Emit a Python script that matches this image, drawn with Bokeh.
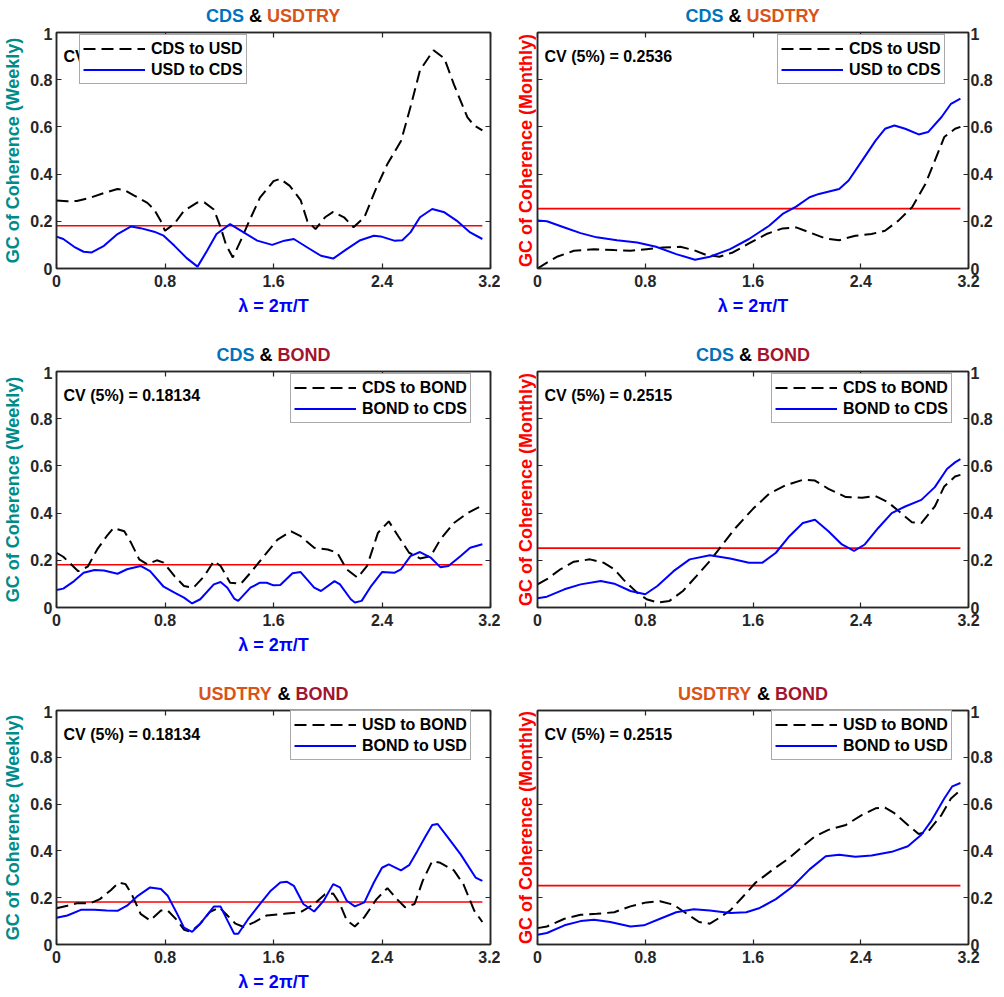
import numpy as np
from bokeh.plotting import figure
from bokeh.layouts import column, row
from bokeh.models import Range1d, LinearAxis, FixedTicker, Label, Legend, LegendItem, ColumnDataSource
from bokeh.embed import file_html
from bokeh.resources import INLINE

# ---------------- data ----------------
x_ticks = [0, 0.8, 1.6, 2.4, 3.2]
x_tick_labels = ["0", "0.8", "1.6", "2.4", "3.2"]
y_ticks = [0, 0.2, 0.4, 0.6, 0.8, 1.0]
y_tick_labels = ["0", "0.2", "0.4", "0.6", "0.8", "1"]

cv_weekly = 0.18134
cv_monthly_cds_usd = 0.2536
cv_monthly_bond = 0.2515

# Panel 1: CDS & USDTRY (weekly)
cds_usd_w_x = [0, 0.08, 0.15, 0.25, 0.35, 0.45, 0.50, 0.57, 0.67, 0.72, 0.77, 0.80, 0.87, 0.94, 1.04, 1.09,
               1.16, 1.21, 1.25, 1.30, 1.36, 1.42, 1.50, 1.60, 1.65, 1.72, 1.80, 1.85, 1.91, 1.98, 2.04, 2.12,
               2.19, 2.27, 2.36, 2.44, 2.54, 2.61, 2.68, 2.78, 2.86, 2.93, 3.03, 3.08, 3.14]
cds_usd_w_y = [0.288, 0.285, 0.286, 0.30, 0.32, 0.337, 0.333, 0.31, 0.278, 0.25, 0.20, 0.16, 0.19, 0.245, 0.28, 0.28,
               0.25, 0.175, 0.10, 0.047, 0.12, 0.20, 0.30, 0.37, 0.38, 0.35, 0.29, 0.20, 0.167, 0.217, 0.24, 0.217,
               0.175, 0.217, 0.344, 0.443, 0.54, 0.684, 0.84, 0.925, 0.89, 0.78, 0.64, 0.606, 0.585]
usd_cds_w_x = [0, 0.05, 0.13, 0.20, 0.26, 0.35, 0.45, 0.55, 0.62, 0.72, 0.79, 0.87, 0.96, 1.04, 1.11, 1.18,
               1.28, 1.38, 1.48, 1.59, 1.68, 1.75, 1.85, 1.95, 2.04, 2.14, 2.24, 2.34, 2.39, 2.49, 2.55, 2.61,
               2.68, 2.77, 2.86, 2.95, 3.05, 3.14]
usd_cds_w_y = [0.135, 0.125, 0.092, 0.071, 0.068, 0.096, 0.146, 0.178, 0.171, 0.156, 0.139, 0.096, 0.044, 0.008, 0.075, 0.146,
               0.188, 0.153, 0.118, 0.10, 0.118, 0.125, 0.089, 0.054, 0.042, 0.082, 0.12, 0.139, 0.136, 0.118, 0.12, 0.153,
               0.217, 0.252, 0.238, 0.203, 0.153, 0.125]

# Panel 2: CDS & USDTRY (monthly)
cds_usd_m_x = [0, 0.07, 0.15, 0.27, 0.42, 0.57, 0.69, 0.81, 0.93, 1.06, 1.16, 1.25, 1.35, 1.45, 1.57, 1.70,
               1.82, 1.92, 2.02, 2.14, 2.24, 2.36, 2.48, 2.58, 2.68, 2.78, 2.88, 2.95, 3.02, 3.10, 3.14]
cds_usd_m_y = [0.0, 0.025, 0.051, 0.075, 0.082, 0.078, 0.075, 0.082, 0.089, 0.092, 0.078, 0.058, 0.05, 0.068, 0.106, 0.146,
               0.17, 0.174, 0.153, 0.127, 0.12, 0.139, 0.146, 0.16, 0.203, 0.259, 0.358, 0.457, 0.557, 0.592, 0.60]
usd_cds_m_x = [0, 0.07, 0.20, 0.32, 0.44, 0.59, 0.74, 0.88, 1.03, 1.17, 1.28, 1.43, 1.57, 1.72, 1.82, 1.92,
               2.02, 2.09, 2.24, 2.31, 2.41, 2.51, 2.58, 2.65, 2.73, 2.83, 2.90, 3.00, 3.07, 3.14]
usd_cds_m_y = [0.203, 0.20, 0.174, 0.15, 0.132, 0.12, 0.11, 0.092, 0.061, 0.037, 0.05, 0.082, 0.125, 0.181, 0.231, 0.262,
               0.302, 0.316, 0.337, 0.373, 0.457, 0.542, 0.592, 0.606, 0.592, 0.568, 0.578, 0.642, 0.698, 0.72]

# Panel 3: CDS & BOND (weekly)
cds_bond_w_x = [0, 0.05, 0.10, 0.16, 0.23, 0.30, 0.37, 0.42, 0.50, 0.55, 0.61, 0.67, 0.74, 0.79, 0.87, 0.94,
                1.01, 1.09, 1.16, 1.21, 1.28, 1.36, 1.43, 1.53, 1.63, 1.73, 1.80, 1.90, 2.00, 2.07, 2.14, 2.22,
                2.29, 2.37, 2.45, 2.52, 2.60, 2.68, 2.76, 2.83, 2.93, 3.03, 3.14]
cds_bond_w_y = [0.232, 0.215, 0.187, 0.154, 0.173, 0.246, 0.302, 0.337, 0.323, 0.274, 0.204, 0.183, 0.20, 0.19, 0.133, 0.091,
                0.084, 0.133, 0.197, 0.176, 0.105, 0.101, 0.147, 0.218, 0.288, 0.323, 0.302, 0.253, 0.246, 0.232, 0.162, 0.126,
                0.176, 0.316, 0.365, 0.302, 0.232, 0.208, 0.218, 0.288, 0.358, 0.40, 0.433]
bond_cds_w_x = [0, 0.05, 0.13, 0.20, 0.28, 0.35, 0.45, 0.52, 0.62, 0.69, 0.79, 0.87, 0.94, 1.00, 1.06, 1.16,
                1.21, 1.26, 1.31, 1.34, 1.43, 1.50, 1.55, 1.60, 1.65, 1.74, 1.80, 1.90, 1.95, 2.05, 2.09, 2.17,
                2.20, 2.25, 2.32, 2.40, 2.49, 2.54, 2.61, 2.68, 2.76, 2.83, 2.89, 2.98, 3.05, 3.14]
bond_cds_w_y = [0.074, 0.08, 0.112, 0.147, 0.159, 0.157, 0.143, 0.162, 0.176, 0.154, 0.088, 0.063, 0.042, 0.017, 0.035, 0.098,
                0.108, 0.084, 0.038, 0.028, 0.084, 0.105, 0.105, 0.094, 0.095, 0.145, 0.15, 0.084, 0.07, 0.112, 0.098, 0.035,
                0.021, 0.028, 0.091, 0.15, 0.147, 0.162, 0.218, 0.235, 0.211, 0.171, 0.176, 0.218, 0.253, 0.268]

# Panel 4: CDS & BOND (monthly)
cds_bond_m_x = [0, 0.07, 0.17, 0.27, 0.39, 0.49, 0.57, 0.64, 0.74, 0.81, 0.89, 0.98, 1.08, 1.18, 1.28, 1.38,
                1.47, 1.60, 1.72, 1.84, 1.97, 2.06, 2.16, 2.29, 2.41, 2.51, 2.60, 2.70, 2.78, 2.85, 2.95, 3.02,
                3.10, 3.14]
cds_bond_m_y = [0.098, 0.12, 0.162, 0.194, 0.204, 0.19, 0.162, 0.117, 0.063, 0.035, 0.021, 0.028, 0.07, 0.133, 0.197, 0.271,
                0.337, 0.418, 0.482, 0.517, 0.541, 0.538, 0.503, 0.468, 0.465, 0.472, 0.447, 0.40, 0.361, 0.358, 0.428, 0.513,
                0.555, 0.562]
bond_cds_m_x = [0, 0.07, 0.20, 0.32, 0.47, 0.57, 0.69, 0.80, 0.89, 1.01, 1.13, 1.28, 1.43, 1.57, 1.67, 1.77,
                1.87, 1.97, 2.06, 2.16, 2.26, 2.35, 2.43, 2.53, 2.63, 2.73, 2.85, 2.95, 3.04, 3.10, 3.14]
bond_cds_m_y = [0.039, 0.046, 0.077, 0.098, 0.112, 0.101, 0.07, 0.056, 0.091, 0.154, 0.204, 0.221, 0.208, 0.19, 0.19, 0.232,
                0.302, 0.358, 0.372, 0.323, 0.267, 0.24, 0.267, 0.337, 0.40, 0.428, 0.456, 0.51, 0.587, 0.615, 0.629]

# Panel 5: USDTRY & BOND (weekly)
usd_bond_w_x = [0, 0.08, 0.15, 0.25, 0.32, 0.40, 0.46, 0.51, 0.56, 0.62, 0.69, 0.77, 0.82, 0.89, 0.94, 0.99,
                1.06, 1.13, 1.20, 1.26, 1.32, 1.38, 1.46, 1.55, 1.68, 1.80, 1.90, 1.98, 2.04, 2.09, 2.14, 2.20,
                2.27, 2.36, 2.44, 2.51, 2.57, 2.64, 2.70, 2.77, 2.83, 2.93, 3.00, 3.08, 3.14]
usd_bond_w_y = [0.155, 0.166, 0.176, 0.176, 0.194, 0.232, 0.265, 0.258, 0.208, 0.131, 0.103, 0.145, 0.145, 0.103, 0.063, 0.054,
                0.089, 0.138, 0.159, 0.124, 0.089, 0.075, 0.096, 0.124, 0.131, 0.138, 0.173, 0.215, 0.218, 0.173, 0.103, 0.077,
                0.117, 0.194, 0.241, 0.194, 0.159, 0.173, 0.272, 0.356, 0.349, 0.317, 0.258, 0.145, 0.096]
bond_usd_w_x = [0, 0.08, 0.18, 0.28, 0.37, 0.45, 0.52, 0.60, 0.69, 0.77, 0.82, 0.89, 0.94, 1.00, 1.06, 1.16,
                1.21, 1.26, 1.31, 1.34, 1.41, 1.51, 1.58, 1.65, 1.70, 1.75, 1.82, 1.90, 1.97, 2.04, 2.09, 2.14,
                2.20, 2.27, 2.34, 2.40, 2.45, 2.54, 2.60, 2.66, 2.72, 2.77, 2.81, 2.88, 2.98, 3.09, 3.14]
bond_usd_w_y = [0.114, 0.124, 0.148, 0.149, 0.145, 0.144, 0.166, 0.208, 0.244, 0.237, 0.208, 0.131, 0.072, 0.054, 0.089, 0.162,
                0.162, 0.103, 0.046, 0.046, 0.106, 0.18, 0.23, 0.265, 0.268, 0.251, 0.173, 0.141, 0.187, 0.258, 0.244, 0.187,
                0.163, 0.18, 0.265, 0.328, 0.342, 0.317, 0.339, 0.399, 0.462, 0.511, 0.515, 0.462, 0.385, 0.286, 0.272]

# Panel 6: USDTRY & BOND (monthly)
usd_bond_m_x = [0, 0.07, 0.20, 0.32, 0.44, 0.57, 0.69, 0.81, 0.91, 1.01, 1.11, 1.20, 1.28, 1.35, 1.43, 1.52,
                1.62, 1.75, 1.87, 1.97, 2.06, 2.16, 2.29, 2.41, 2.51, 2.58, 2.65, 2.75, 2.83, 2.90, 3.00, 3.07, 3.14]
usd_bond_m_y = [0.07, 0.077, 0.11, 0.127, 0.131, 0.138, 0.163, 0.18, 0.185, 0.17, 0.131, 0.096, 0.089, 0.114, 0.145, 0.201,
                0.265, 0.321, 0.37, 0.42, 0.462, 0.49, 0.511, 0.554, 0.582, 0.585, 0.561, 0.511, 0.472, 0.483, 0.554, 0.624, 0.659]
bond_usd_m_x = [0, 0.07, 0.20, 0.32, 0.42, 0.54, 0.69, 0.79, 0.91, 1.03, 1.16, 1.28, 1.43, 1.55, 1.65, 1.77,
                1.89, 2.02, 2.14, 2.24, 2.36, 2.48, 2.63, 2.75, 2.85, 2.92, 3.02, 3.08, 3.14]
bond_usd_m_y = [0.042, 0.049, 0.082, 0.10, 0.106, 0.096, 0.077, 0.082, 0.11, 0.138, 0.151, 0.145, 0.135, 0.138, 0.156, 0.194,
                0.246, 0.321, 0.377, 0.384, 0.375, 0.38, 0.396, 0.42, 0.469, 0.525, 0.624, 0.676, 0.69]

# ---------------- style ----------------
FONT = "Liberation Sans"
AXC = "#262626"
C_CDS = "#0072BD"
C_USD = "#D95319"
C_BOND = "#A2142F"
C_WEEK = "#008B8B"
C_MONTH = "#FF0000"
ARIAL_BOLD = {"C": .722, "D": .722, "S": .667, " ": .278, "&": .722, "U": .722, "T": .611,
              "R": .722, "Y": .667, "B": .722, "O": .778, "N": .722}
TITLE_PX = 18
TITLE_H = 27          # height of the title strip
TITLE_CENTER = 15.5   # title centre, px from the top of the row
TOP_B = 5             # border between title strip and frame
FRAME_H = 236
LEFT_COL = dict(width=500, min_border_left=56, min_border_right=10)
RIGHT_COL = dict(width=504, min_border_left=37, min_border_right=36)


def text_w(s, px):
    return sum(ARIAL_BOLD.get(ch, 0.6) for ch in s) * px


def cv_text(v):
    return ("%.5f" % v).rstrip("0")


def make_axis(labels_on, standoff=4):
    return LinearAxis(
        major_tick_in=5, major_tick_out=0, minor_tick_line_color=None,
        axis_line_color=AXC, axis_line_width=1.5, major_tick_line_color=AXC, major_tick_line_width=1.2,
        major_label_text_font=FONT, major_label_text_font_style="bold",
        major_label_text_color=AXC, major_label_standoff=standoff, axis_label_standoff=0,
        major_label_text_font_size="16px" if labels_on else "0px",
    )


def set_ticks(ax, ticks, labels, labels_on):
    ax.ticker = FixedTicker(ticks=ticks)
    ax.major_label_overrides = {float(t): (l if labels_on else "") for t, l in zip(ticks, labels)}


def make_title(title_parts, left_col):
    geo = LEFT_COL if left_col else RIGHT_COL
    t = figure(height=TITLE_H, x_range=Range1d(0, 3.2), y_range=Range1d(0, TITLE_H),
               output_backend="svg", toolbar_location=None, x_axis_type=None, y_axis_type=None,
               min_border_top=0, min_border_bottom=0, outline_line_color=None,
               background_fill_color="white", border_fill_color="white", **geo)
    words = [title_parts[0][0], "&", title_parts[1][0]]
    cols = [title_parts[0][1], "black", title_parts[1][1]]
    total = text_w(" ".join(words), TITLE_PX)
    offs = []
    start = -total / 2
    for w in words:
        offs.append(start)
        start += text_w(w + " ", TITLE_PX)
    mid = (t.x_range.start + t.x_range.end) / 2
    src = ColumnDataSource(dict(x=[mid] * 3, y=[TITLE_H - TITLE_CENTER] * 3, text=words, color=cols, xo=offs))
    t.text(x="x", y="y", text="text", text_color="color", x_offset="xo", source=src,
           text_font={"value": FONT}, text_font_style="bold", text_font_size="%dpx" % TITLE_PX,
           text_align="left", text_baseline="middle")
    return t


def make_panel(s1, s2, names, cv, monthly, xlabel, legend_left, bottom_border, left_col):
    geo = LEFT_COL if left_col else RIGHT_COL
    p = figure(height=TOP_B + FRAME_H + bottom_border, x_range=Range1d(0, 3.2), y_range=Range1d(0, 1),
               output_backend="svg", toolbar_location=None, x_axis_type=None, y_axis_type=None,
               min_border_top=TOP_B, min_border_bottom=bottom_border,
               background_fill_color="white", border_fill_color="white",
               outline_line_color=AXC, outline_line_width=1.5, **geo)

    xb = make_axis(True, standoff=6)
    set_ticks(xb, x_ticks, x_tick_labels, True)
    if xlabel:
        xb.axis_label = "\u03bb = 2\u03c0/T"
        xb.axis_label_text_color = "#0000FF"
        xb.axis_label_text_font = FONT
        xb.axis_label_text_font_style = "bold"
        xb.axis_label_text_font_size = "18px"
        xb.axis_label_standoff = 6
    p.add_layout(xb, "below")
    xa = make_axis(False, standoff=0)
    set_ticks(xa, x_ticks, x_tick_labels, False)
    p.add_layout(xa, "above")

    yl = make_axis(not monthly, standoff=0 if monthly else 4)
    set_ticks(yl, y_ticks, y_tick_labels, not monthly)
    yl.axis_label = "GC of Coherence (Monthly)" if monthly else "GC of Coherence (Weekly)"
    yl.axis_label_text_color = C_MONTH if monthly else C_WEEK
    yl.axis_label_text_font = FONT
    yl.axis_label_text_font_style = "bold"
    yl.axis_label_text_font_size = "18px"
    yl.axis_label_standoff = 2 if monthly else 4
    p.add_layout(yl, "left")
    yr = make_axis(monthly, standoff=2 if monthly else 0)
    set_ticks(yr, y_ticks, y_tick_labels, monthly)
    p.add_layout(yr, "right")

    # CV text first, so that the legend box is drawn over it
    p.add_layout(Label(x=0, y=1, x_offset=7, y_offset=-24, text="CV (5%%) = %s" % cv_text(cv),
                       text_font=FONT, text_font_style="bold", text_font_size="16px",
                       text_color="black", text_baseline="middle", text_align="left"))

    lam = [s1[0][0], s1[0][-1]]
    p.line(lam, [cv, cv], line_color="#FF0000", line_width=1.6)
    r1 = p.line(s1[0], s1[1], line_color="black", line_width=2, line_dash="12 6")
    r2 = p.line(s2[0], s2[1], line_color="#0000FF", line_width=2)

    leg_h = 48
    legend = Legend(items=[LegendItem(label=names[0], renderers=[r1]),
                           LegendItem(label=names[1], renderers=[r2])],
                    location=(legend_left, FRAME_H - 4 - leg_h),
                    label_text_font=FONT, label_text_font_style="bold", label_text_font_size="16px",
                    label_text_color="black", glyph_width=62, glyph_height=21, label_height=21,
                    label_standoff=6, spacing=0, padding=3, margin=0,
                    border_line_color="#555555", border_line_width=1,
                    background_fill_color="white", background_fill_alpha=1.0)
    p.add_layout(legend)
    return p


MID_B, BOT_B = 71, 48
t1 = make_title([("CDS", C_CDS), ("USDTRY", C_USD)], True)
t2 = make_title([("CDS", C_CDS), ("USDTRY", C_USD)], False)
t3 = make_title([("CDS", C_CDS), ("BOND", C_BOND)], True)
t4 = make_title([("CDS", C_CDS), ("BOND", C_BOND)], False)
t5 = make_title([("USDTRY", C_USD), ("BOND", C_BOND)], True)
t6 = make_title([("USDTRY", C_USD), ("BOND", C_BOND)], False)

p1 = make_panel((cds_usd_w_x, cds_usd_w_y), (usd_cds_w_x, usd_cds_w_y),
                ["CDS to USD", "USD to CDS"], cv_weekly, False, True, 23, MID_B, True)
p2 = make_panel((cds_usd_m_x, cds_usd_m_y), (usd_cds_m_x, usd_cds_m_y),
                ["CDS to USD", "USD to CDS"], cv_monthly_cds_usd, True, True, 240, MID_B, False)
p3 = make_panel((cds_bond_w_x, cds_bond_w_y), (bond_cds_w_x, bond_cds_w_y),
                ["CDS to BOND", "BOND to CDS"], cv_weekly, False, True, 234, MID_B, True)
p4 = make_panel((cds_bond_m_x, cds_bond_m_y), (bond_cds_m_x, bond_cds_m_y),
                ["CDS to BOND", "BOND to CDS"], cv_monthly_bond, True, False, 234, MID_B, False)
p5 = make_panel((usd_bond_w_x, usd_bond_w_y), (bond_usd_w_x, bond_usd_w_y),
                ["USD to BOND", "BOND to USD"], cv_weekly, False, True, 234, BOT_B, True)
p6 = make_panel((usd_bond_m_x, usd_bond_m_y), (bond_usd_m_x, bond_usd_m_y),
                ["USD to BOND", "BOND to USD"], cv_monthly_bond, True, False, 234, BOT_B, False)

layout = column(row(t1, t2), row(p1, p2), row(t3, t4), row(p3, p4), row(t5, t6), row(p5, p6), spacing=0)

open("out.html", "w").write(file_html(layout, INLINE))
